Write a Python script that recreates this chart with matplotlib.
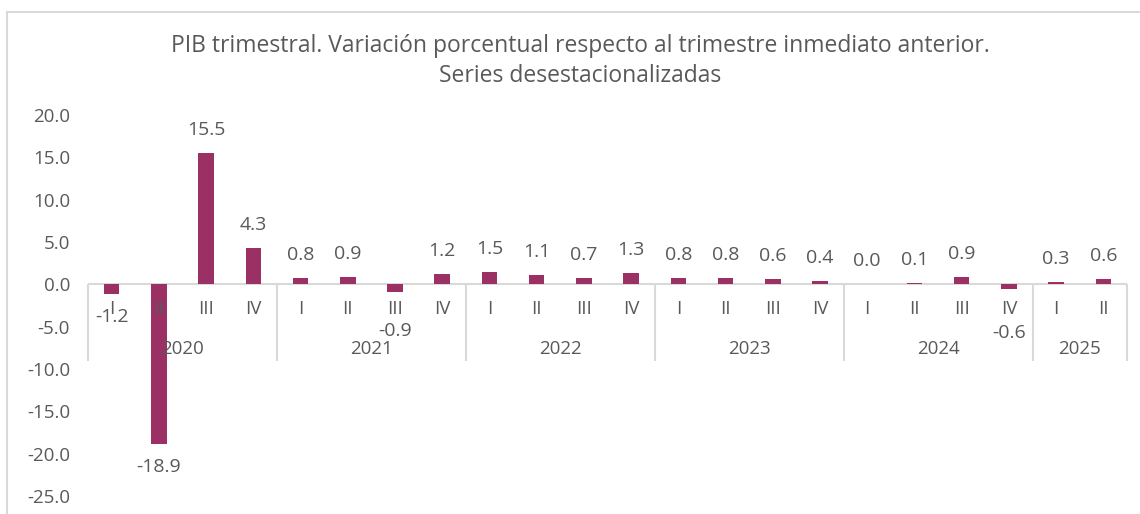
import numpy as np
import matplotlib.pyplot as plt
from matplotlib.lines import Line2D

# Data
years = ['2020', '2021', '2022', '2023', '2024', '2025']
quarters_per_year = [4, 4, 4, 4, 4, 2]
quarter_names = ['I', 'II', 'III', 'IV']
values = [-1.2, -18.9, 15.5, 4.3,
          0.8, 0.9, -0.9, 1.2,
          1.5, 1.1, 0.7, 1.3,
          0.8, 0.8, 0.6, 0.4,
          0.0, 0.1, 0.9, -0.6,
          0.3, 0.6]

# label offsets in pixels (a couple were moved by hand in the original)
label_offsets = [23] * len(values)
label_offsets[6] = 39
label_offsets[19] = 44

bar_color = '#9B3064'
text_color = '#595959'
line_color = '#D9D9D9'

plt.rcParams['font.family'] = ['Open Sans', 'DejaVu Sans']

fig = plt.figure(figsize=(11.4, 5.14), dpi=100)
ax = fig.add_axes([88 / 1140, 18 / 514, (1127 - 88) / 1140, (496 - 115) / 514])

x = np.arange(len(values))
ax.bar(x, values, width=0.33, color=bar_color)
ax.set_xlim(-0.5, len(values) - 0.5)
ax.set_ylim(-25, 20)
ax.set_yticks(np.arange(-25, 21, 5))
ax.set_yticklabels([f'{v:.1f}' for v in np.arange(-25, 21, 5)])
ax.tick_params(axis='y', length=0, pad=13, labelsize=13.5, labelcolor=text_color)
ax.set_xticks([])
for s in ax.spines.values():
    s.set_visible(False)

# category axis line
ax.axhline(0, color=line_color, lw=1.5, zorder=0)

# data labels
for i, v in enumerate(values):
    off = label_offsets[i]
    if v >= 0:
        ax.annotate(f'{v:.1f}', (i, v), xytext=(0, off), textcoords='offset pixels',
                    ha='center', va='center', fontsize=14, color=text_color)
    else:
        ax.annotate(f'{v:.1f}', (i, v), xytext=(0, -off), textcoords='offset pixels',
                    ha='center', va='center', fontsize=14, color=text_color)

# quarter and year labels with group separators
start = 0
bounds = [-0.5]
for year, n in zip(years, quarters_per_year):
    for q in range(n):
        ax.annotate(quarter_names[q], (start + q, 0), xytext=(0, -25), textcoords='offset pixels',
                    ha='center', va='center', fontsize=13.5, color=text_color)
    ax.annotate(year, (start + (n - 1) / 2, 0), xytext=(0, -65), textcoords='offset pixels',
                ha='center', va='center', fontsize=13.5, color=text_color)
    start += n
    bounds.append(start - 0.5)
ax.vlines(bounds, -9.1, 0, color=line_color, lw=1.5, clip_on=False, zorder=0)

# title
fig.text(580 / 1140, 1 - 61 / 514,
         'PIB trimestral. Variación porcentual respecto al trimestre inmediato anterior.\nSeries desestacionalizadas',
         ha='center', va='center', fontsize=16.5, color=text_color, linespacing=1.3)

# chart area border
fig.add_artist(Line2D([7 / 1140, 7 / 1140], [0, 1 - 12 / 514], transform=fig.transFigure, color=line_color, lw=1.5))
fig.add_artist(Line2D([7 / 1140, 1], [1 - 12 / 514, 1 - 12 / 514], transform=fig.transFigure, color=line_color, lw=1.5))

fig.savefig('out.png', dpi=100)
